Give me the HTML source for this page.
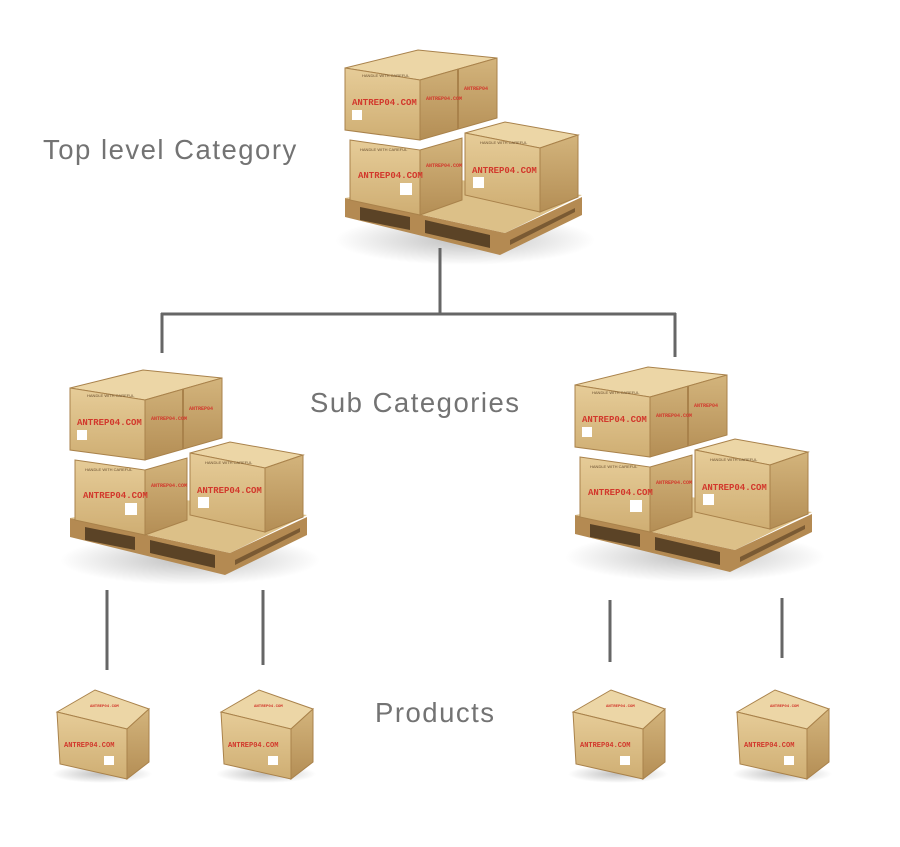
<!DOCTYPE html>
<html><head><meta charset="utf-8"><style>
html,body{margin:0;padding:0;background:#fff;width:900px;height:847px;overflow:hidden}
svg{display:block}
.lbl{font-family:"Liberation Sans",sans-serif;font-size:27.5px;fill:#737373;letter-spacing:1.5px}
.st{font-family:"Liberation Mono",monospace;font-weight:bold;fill:#d2382c}
</style></head><body>
<svg width="900" height="847" viewBox="0 0 900 847" xmlns="http://www.w3.org/2000/svg">
<defs>
<linearGradient id="fr" x1="0" y1="0" x2="0" y2="1"><stop offset="0" stop-color="#e6cc98"/><stop offset="1" stop-color="#cfae73"/></linearGradient>
<linearGradient id="rt" x1="0" y1="0" x2="0" y2="1"><stop offset="0" stop-color="#d3b47c"/><stop offset="1" stop-color="#b48e55"/></linearGradient>
<radialGradient id="sh"><stop offset="0" stop-color="#000" stop-opacity=".25"/><stop offset="1" stop-color="#000" stop-opacity="0"/></radialGradient>
<g id="pal">
 <ellipse cx="125" cy="195" rx="130" ry="25" fill="url(#sh)"/>
 <polygon points="5,153 165,188 242,152 242,170 160,210 5,172" fill="#b48a52"/>
 <polygon points="5,153 120,135 242,150 165,188" fill="#dcc088"/>
 <polygon points="20,162 70,172 70,185 20,175" fill="#5b4326"/>
 <polygon points="85,175 150,190 150,203 85,188" fill="#5b4326"/>
 <polygon points="170,195 235,163 235,167 170,200" fill="#7a5a33"/>
 <polygon points="5,23 78,5 157,13 80,35" fill="#ecd6a6" stroke="#a9824b"/>
 <polygon points="5,23 80,35 80,95 5,85" fill="url(#fr)" stroke="#a9824b"/>
 <polygon points="80,35 157,13 157,73 80,95" fill="url(#rt)" stroke="#a9824b"/>
 <line x1="118" y1="24" x2="118" y2="84" stroke="#a9824b" stroke-width="2"/>
 <text class="st" x="12" y="60" font-size="9">ANTREP04.COM</text>
 <text x="22" y="32" font-size="4" fill="#6a5030" font-family="Liberation Sans">HANDLE WITH CAREFUL</text>
 <rect x="12" y="65" width="10" height="10" fill="#fff"/>
 <text class="st" x="86" y="55" font-size="5">ANTREP04.COM</text>
 <text class="st" x="124" y="45" font-size="5">ANTREP04</text>
 <polygon points="10,95 80,105 80,170 10,155" fill="url(#fr)" stroke="#a9824b"/>
 <polygon points="80,105 122,93 122,155 80,170" fill="url(#rt)" stroke="#a9824b"/>
 <text class="st" x="18" y="133" font-size="9">ANTREP04.COM</text>
 <text x="20" y="106" font-size="4" fill="#6a5030" font-family="Liberation Sans">HANDLE WITH CAREFUL</text>
 <rect x="60" y="138" width="12" height="12" fill="#fff"/>
 <text class="st" x="86" y="122" font-size="5">ANTREP04.COM</text>
 <polygon points="125,88 165,77 238,90 200,103" fill="#ecd6a6" stroke="#a9824b"/>
 <polygon points="125,88 200,103 200,167 125,150" fill="url(#fr)" stroke="#a9824b"/>
 <polygon points="200,103 238,90 238,152 200,167" fill="url(#rt)" stroke="#a9824b"/>
 <text class="st" x="132" y="128" font-size="9">ANTREP04.COM</text>
 <text x="140" y="99" font-size="4" fill="#6a5030" font-family="Liberation Sans">HANDLE WITH CAREFUL</text>
 <rect x="133" y="132" width="11" height="11" fill="#fff"/>
</g>
<g id="crt">
 <ellipse cx="50" cy="92" rx="50" ry="9" fill="url(#sh)"/>
 <polygon points="5,30 43,8 97,27 75,47" fill="#ecd6a6" stroke="#a9824b"/>
 <polygon points="5,30 75,47 75,97 8,82" fill="url(#fr)" stroke="#a9824b"/>
 <polygon points="75,47 97,27 97,80 75,97" fill="url(#rt)" stroke="#a9824b"/>
 <text class="st" x="12" y="65" font-size="7">ANTREP04.COM</text>
 <text class="st" x="38" y="25" font-size="4">ANTREP04.COM</text>
 <rect x="52" y="74" width="10" height="9" fill="#fff"/>
</g>
</defs>
<use href="#pal" x="340" y="45"/>
<use href="#pal" x="65" y="365"/>
<use href="#pal" x="570" y="362"/>
<use href="#crt" x="52" y="682"/>
<use href="#crt" x="216" y="682"/>
<use href="#crt" x="568" y="682"/>
<use href="#crt" x="732" y="682"/>
<g stroke="#666" stroke-width="3" fill="none">
 <line x1="440" y1="248" x2="440" y2="313"/>
 <line x1="161" y1="314" x2="676" y2="314"/>
 <line x1="162" y1="313" x2="162" y2="353"/>
 <line x1="675" y1="313" x2="675" y2="357"/>
 <line x1="107" y1="590" x2="107" y2="670"/>
 <line x1="263" y1="590" x2="263" y2="665"/>
 <line x1="610" y1="600" x2="610" y2="662"/>
 <line x1="782" y1="598" x2="782" y2="658"/>
</g>
<text class="lbl" x="43" y="159">Top level Category</text>
<text class="lbl" x="310" y="412">Sub Categories</text>
<text class="lbl" x="375" y="722">Products</text>
</svg>
</body></html>
